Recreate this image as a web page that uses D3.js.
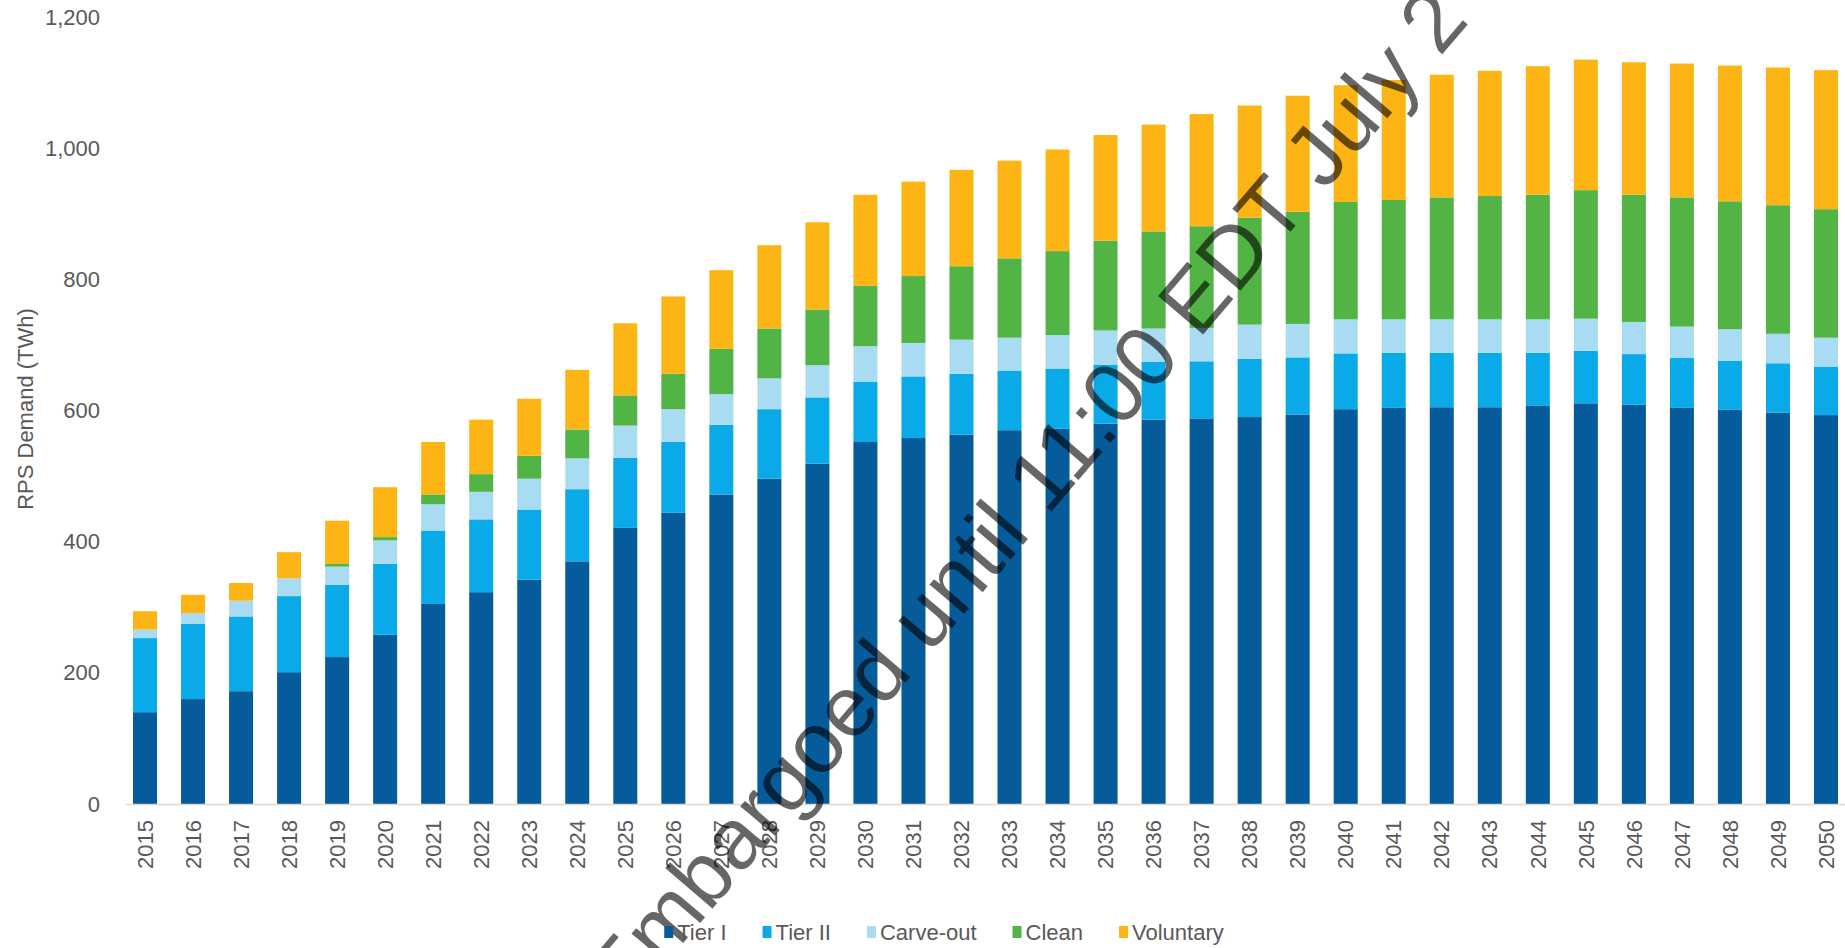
<!DOCTYPE html>
<html>
<head>
<meta charset="utf-8">
<script src="https://cdn.jsdelivr.net/npm/d3@7"></script>
<style>
  html, body { margin: 0; padding: 0; background: #ffffff; }
  svg { display: block; font-family: "Liberation Sans", Arial, sans-serif; }
</style>
</head>
<body>
<svg id="chart" width="1845" height="948"></svg>
<script>
// RPS demand by component, TWh
const years = ["2015","2016","2017","2018","2019","2020","2021","2022","2023","2024",
  "2025","2026","2027","2028","2029","2030","2031","2032","2033","2034","2035","2036",
  "2037","2038","2039","2040","2041","2042","2043","2044","2045","2046","2047","2048",
  "2049","2050"];
const tierI     = [140,160,172,201,224,258,305,323,342,370,421,444,472,496,519,552,558,563,570,572,580,586,588,590,594,602,604,605,605,607,611,609,604,601,597,593];
const tierII    = [113,115,114,116,110,108,112,111,107,110,107,108,106,106,101,92,94,93,91,92,90,88,87,89,87,85,84,83,83,81,80,77,76,75,75,74];
const carveOut  = [13,16,24,27,28,36,40,42,47,47,49,50,47,47,49,54,51,52,50,51,52,51,51,52,51,52,51,51,51,51,49,49,48,48,45,44];
const clean     = [0,0,0,0,4,5,15,27,35,44,46,54,69,76,85,92,102,112,121,128,137,148,155,163,171,179,182,186,188,190,196,194,197,195,196,196];
const voluntary = [28,28,27,40,66,76,80,83,87,91,110,118,120,127,133,139,144,147,149,155,161,163,171,171,177,178,183,187,191,196,199,202,204,207,210,212];

const seriesNames  = ["Tier I", "Tier II", "Carve-out", "Clean", "Voluntary"];
const seriesColors = ["#065b9a", "#0aa9e8", "#a9dcf3", "#52b445", "#fdb515"];
const yTicks = [0, 200, 400, 600, 800, 1000, 1200];
const yTitle = "RPS Demand (TWh)";
const stamp = "Embargoed until 11:00 EDT July 2";

const seriesValues = [tierI, tierII, carveOut, clean, voluntary];
const rows = years.map((yr, i) => {
  const r = { year: yr };
  seriesNames.forEach((s, k) => { r[s] = seriesValues[k][i]; });
  return r;
});

const svg = d3.select("#chart");
const textColor = "#595959";

const x = d3.scaleBand().domain(years).range([121, 1850]).paddingInner(0.5).paddingOuter(0.25);
const y = d3.scaleLinear().domain([0, 1200]).range([804, 17]);

const stacked = d3.stack().keys(seriesNames)(rows);
const color = d3.scaleOrdinal().domain(seriesNames).range(seriesColors);

// stacked bars
svg.append("g").selectAll("g")
  .data(stacked).join("g")
  .attr("fill", d => color(d.key))
  .selectAll("rect")
  .data(d => d).join("rect")
  .attr("x", d => x(d.data.year))
  .attr("width", x.bandwidth())
  .attr("y", d => y(d[1]))
  .attr("height", d => Math.max(0, y(d[0]) - y(d[1])));

// baseline
svg.append("line")
  .attr("x1", 126).attr("x2", 1845)
  .attr("y1", y(0) + 0.5).attr("y2", y(0) + 0.5)
  .attr("stroke", "#d9d9d9").attr("stroke-width", 1.5);

// y axis labels
const yAxis = d3.axisLeft(y).tickValues(yTicks).tickFormat(d3.format(",")).tickSize(0).tickPadding(0);
const gy = svg.append("g").attr("transform", "translate(100,0)").call(yAxis);
gy.select(".domain").remove();
gy.selectAll("text").attr("font-size", 22).attr("fill", textColor)
  .attr("font-family", "Liberation Sans, Arial, sans-serif");

// x axis labels, rotated
const xAxis = d3.axisBottom(x).tickSize(0).tickPadding(0);
const gx = svg.append("g").attr("transform", "translate(0,820)").call(xAxis);
gx.select(".domain").remove();
gx.selectAll("text")
  .attr("font-size", 22).attr("fill", textColor)
  .attr("font-family", "Liberation Sans, Arial, sans-serif")
  .attr("text-anchor", "end")
  .attr("transform", "rotate(-90)")
  .attr("x", 0).attr("y", 0).attr("dy", "0.35em");

// y title
svg.append("text")
  .attr("transform", "translate(33,409) rotate(-90)")
  .attr("text-anchor", "middle")
  .attr("font-size", 22).attr("fill", textColor)
  .text(yTitle);

// diagonal stamp across the plot
svg.append("text")
  .attr("transform", "translate(625,1011) rotate(-49.5)")
  .attr("font-size", 86)
  .attr("fill", "#000").attr("fill-opacity", 0.6)
  .text(stamp);

// legend
const legend = svg.append("g").attr("transform", "translate(0,932)");
const items = legend.selectAll("g").data(seriesNames).join("g");
items.append("rect").attr("x", 0).attr("y", -6).attr("width", 9).attr("height", 12)
  .attr("fill", d => color(d));
items.append("text").attr("x", 13).attr("dy", "0.35em")
  .attr("font-size", 22).attr("fill", textColor).text(d => d);
const widths = [];
items.each(function() { widths.push(this.getBBox().width); });
const gap = 36;
const total = d3.sum(widths) + gap * (widths.length - 1);
let cursor = 944 - total / 2;
items.attr("transform", (d, i) => {
  const t = `translate(${cursor},0)`;
  cursor += widths[i] + gap;
  return t;
});
</script>
</body>
</html>
